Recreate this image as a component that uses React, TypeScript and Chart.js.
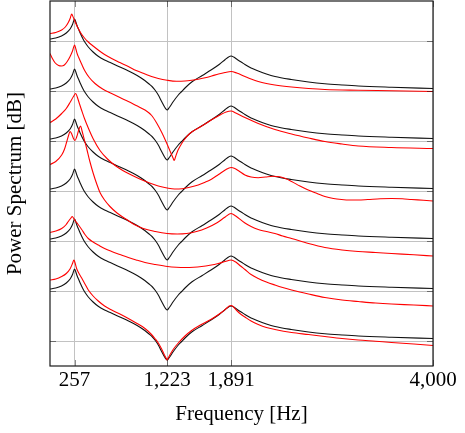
import React, { useEffect, useRef } from "react";
import { Chart, registerables } from "chart.js";

Chart.register(...registerables);

const WIDTH = 465;
const HEIGHT = 433;
const FONT_FAMILY = "'Liberation Serif', 'Times New Roman', serif";

// Axis ticks
const xTickValues = [257, 1223, 1891, 4000];
const yGridValues = [0, 10, 20, 30, 40, 50, 60];

// Vertical offset (dB) of each row, top row first
const rowOffsets = [50, 40, 30, 20, 10, 0];

// Model spectrum, drawn in black under every row
const modelFreq = [0, 60, 120, 170, 210, 235, 257, 268, 282, 300, 320, 345, 370, 400, 450, 500, 570, 640, 730, 820, 910, 990, 1035, 1070, 1100, 1131, 1166, 1200, 1223, 1246, 1288, 1340, 1375, 1410, 1480, 1590, 1690, 1770, 1830, 1865, 1891, 1918, 1955, 2000, 2036, 2100, 2175, 2260, 2350, 2520, 2700, 2870, 3050, 3220, 3570, 4000];
const modelDb = [10.4, 10.6, 11.0, 11.6, 12.4, 13.3, 14.4, 13.9, 13.1, 12.3, 11.4, 10.4, 9.6, 8.8, 7.8, 7.0, 6.2, 5.6, 4.8, 4.0, 3.1, 2.1, 1.4, 0.8, 0.1, -0.8, -2.1, -3.3, -3.8, -3.3, -2.1, -0.8, -0.1, 0.6, 1.8, 3.1, 4.3, 5.35, 6.3, 6.8, 7.0, 6.8, 6.3, 5.75, 5.3, 4.6, 4.0, 3.4, 2.9, 2.3, 1.8, 1.45, 1.2, 1.0, 0.75, 0.5];

// Measured spectra (red), one per row, relative to the row offset
const meas1Freq = [0, 60, 122, 160, 191, 210, 226, 235, 250, 270, 295, 325, 360, 400, 450, 504, 570, 644, 730, 818, 900, 992, 1060, 1131, 1223, 1320, 1410, 1480, 1548, 1620, 1688, 1760, 1827, 1891, 1950, 2036, 2100, 2175, 2260, 2349, 2523, 2700, 2871, 3219, 3567, 4000];
const meas1Db = [11.5, 11.7, 12.2, 12.8, 13.7, 14.5, 15.4, 15.1, 14.4, 13.5, 12.5, 11.5, 10.6, 9.8, 9.0, 8.2, 7.3, 6.5, 5.7, 4.9, 4.1, 3.4, 2.9, 2.5, 2.15, 1.95, 2.0, 2.15, 2.35, 2.65, 3.0, 3.4, 3.7, 3.9, 3.6, 2.9, 2.4, 1.9, 1.5, 1.2, 0.8, 0.5, 0.3, 0.15, 0.05, -0.1];

const meas2Freq = [0, 25, 55, 90, 120, 150, 180, 210, 235, 257, 270, 285, 300, 330, 365, 410, 470, 550, 644, 730, 818, 900, 992, 1062, 1114, 1170, 1218, 1260, 1285, 1298, 1312, 1335, 1357, 1400, 1460, 1550, 1636, 1710, 1775, 1840, 1891, 1940, 2036, 2175, 2349, 2523, 2700, 2871, 3050, 3219, 3567, 4000];
const meas2Db = [17.5, 16.5, 15.6, 15.1, 15.0, 15.2, 15.9, 16.9, 18.0, 19.2, 18.4, 17.4, 16.7, 15.4, 14.0, 12.7, 11.5, 10.4, 9.5, 8.7, 7.9, 7.1, 6.2, 5.1, 3.6, 1.6, -0.4, -2.3, -3.4, -3.9, -3.1, -1.9, -1.1, 0.2, 1.5, 2.6, 3.6, 4.5, 5.2, 5.8, 6.0, 5.6, 4.7, 3.5, 2.3, 1.4, 0.6, -0.1, -0.6, -1.0, -1.3, -1.5];

const meas3Freq = [0, 60, 122, 170, 209, 245, 268, 285, 305, 331, 360, 400, 452, 522, 600, 680, 760, 850, 950, 1040, 1131, 1223, 1300, 1380, 1460, 1548, 1620, 1690, 1760, 1830, 1891, 1930, 1980, 2036, 2100, 2175, 2250, 2330, 2400, 2460, 2523, 2610, 2697, 2790, 2871, 2960, 3045, 3130, 3219, 3320, 3450, 3567, 3680, 3776, 3900, 4000];
const meas3Db = [13.7, 14.4, 15.5, 16.5, 17.7, 18.9, 19.5, 18.8, 17.6, 16.1, 14.5, 12.6, 10.4, 8.1, 6.4, 5.1, 4.1, 3.2, 2.3, 1.6, 1.0, 0.6, 0.4, 0.45, 0.75, 1.2, 1.75, 2.4, 3.3, 4.2, 4.7, 4.5, 3.9, 3.2, 2.8, 2.65, 2.8, 2.95, 2.85, 2.5, 1.9, 1.0, 0.2, -0.5, -1.1, -1.5, -1.7, -1.8, -1.8, -1.7, -1.55, -1.5, -1.55, -1.7, -1.85, -2.0];

const meas4Freq = [0, 60, 122, 150, 174, 195, 209, 225, 245, 261, 280, 300, 320, 335, 355, 383, 415, 452, 490, 522, 570, 626, 700, 800, 880, 974, 1100, 1223, 1330, 1427, 1530, 1636, 1740, 1830, 1891, 1940, 2036, 2100, 2175, 2260, 2349, 2430, 2523, 2700, 2871, 3050, 3219, 3400, 3567, 3800, 4000];
const meas4Db = [15.3, 15.9, 17.2, 18.3, 19.8, 21.2, 21.9, 21.5, 20.5, 20.1, 20.9, 22.2, 23.0, 22.0, 20.5, 18.5, 16.0, 13.5, 11.3, 9.7, 8.2, 6.9, 5.6, 4.3, 3.3, 2.5, 1.9, 1.5, 1.4, 1.5, 1.9, 2.6, 3.6, 4.8, 5.5, 5.0, 3.6, 2.9, 2.3, 1.9, 1.5, 1.0, 0.5, -0.5, -1.3, -1.8, -2.1, -2.3, -2.5, -2.75, -3.0];

const meas5Freq = [0, 60, 122, 165, 191, 215, 233, 248, 265, 290, 331, 365, 400, 450, 504, 570, 644, 730, 818, 900, 992, 1100, 1228, 1320, 1410, 1500, 1584, 1670, 1757, 1830, 1891, 1940, 1990, 2036, 2100, 2175, 2260, 2349, 2430, 2523, 2700, 2871, 3050, 3219, 3400, 3567, 3800, 4000];
const meas5Db = [11.7, 12.0, 12.5, 13.2, 13.9, 14.5, 14.9, 14.5, 14.0, 13.4, 12.3, 11.3, 10.5, 9.8, 9.2, 8.5, 7.9, 7.3, 6.7, 6.2, 5.7, 5.3, 4.9, 4.75, 4.7, 4.75, 4.9, 5.15, 5.5, 5.9, 6.2, 5.8, 5.0, 4.3, 3.3, 2.5, 1.8, 1.2, 0.7, 0.2, -0.6, -1.3, -1.8, -2.1, -2.4, -2.6, -2.8, -3.0];

const meas6Freq = [0, 60, 122, 170, 209, 235, 250, 262, 278, 300, 331, 365, 400, 450, 504, 570, 644, 730, 818, 900, 992, 1060, 1100, 1131, 1166, 1195, 1212, 1223, 1234, 1252, 1290, 1340, 1410, 1479, 1580, 1688, 1790, 1850, 1872, 1891, 1912, 1950, 1990, 2036, 2100, 2175, 2260, 2349, 2523, 2700, 2871, 3050, 3219, 3400, 3567, 3800, 4000];
const meas6Db = [12.2, 12.4, 12.9, 13.5, 14.4, 15.5, 16.2, 15.6, 14.5, 13.6, 12.6, 11.4, 10.2, 9.0, 8.0, 7.0, 6.2, 5.4, 4.5, 3.6, 2.5, 1.3, 0.4, -0.4, -1.6, -2.8, -3.4, -3.8, -3.4, -2.8, -1.6, -0.4, 1.0, 2.1, 3.3, 4.4, 5.7, 6.65, 7.0, 7.1, 6.9, 6.1, 5.4, 4.8, 4.0, 3.3, 2.7, 2.3, 1.7, 1.3, 0.9, 0.5, 0.2, -0.05, -0.3, -0.6, -0.9];

const measFreqs = [meas1Freq, meas2Freq, meas3Freq, meas4Freq, meas5Freq, meas6Freq];
const measDbs = [meas1Db, meas2Db, meas3Db, meas4Db, meas5Db, meas6Db];

const toPoints = (freq: number[], db: number[], offset: number) =>
  freq.map((f, i) => ({ x: f, y: db[i] + offset }));

// Frame and inward tick marks around the plot area
const framePlugin = {
  id: "frame",
  afterDatasetsDraw(chart: any) {
    const { ctx, chartArea } = chart;
    const { left, right, top, bottom } = chartArea;
    const xs = chart.scales.x;
    const ys = chart.scales.y;
    ctx.save();
    ctx.strokeStyle = "rgba(0,0,0,0.45)";
    ctx.lineWidth = 1;
    const len = 6;
    ctx.beginPath();
    for (const v of yGridValues) {
      const y = Math.round(ys.getPixelForValue(v)) + 0.5;
      ctx.moveTo(left, y);
      ctx.lineTo(left + len, y);
      ctx.moveTo(right, y);
      ctx.lineTo(right - len, y);
    }
    for (const v of xTickValues) {
      const x = Math.round(xs.getPixelForValue(v)) + 0.5;
      ctx.moveTo(x, bottom);
      ctx.lineTo(x, bottom - len);
      ctx.moveTo(x, top);
      ctx.lineTo(x, top + len);
    }
    ctx.stroke();
    ctx.strokeStyle = "#1a1a1a";
    ctx.lineWidth = 1.2;
    ctx.strokeRect(left, top, right - left, bottom - top);
    ctx.restore();
  },
};

export default function App() {
  const canvasRef = useRef<HTMLCanvasElement | null>(null);

  useEffect(() => {
    const canvas = canvasRef.current;
    if (!canvas) return;

    const redSets = rowOffsets.map((off, i) => ({
      label: `measured ${i + 1}`,
      data: toPoints(measFreqs[i], measDbs[i], off),
      borderColor: "#ff0000",
      borderWidth: 1.1,
      pointRadius: 0,
      fill: false,
      cubicInterpolationMode: "monotone" as const,
    }));
    const blackSets = rowOffsets.map((off, i) => ({
      label: `model ${i + 1}`,
      data: toPoints(modelFreq, modelDb, off),
      borderColor: "#111111",
      borderWidth: 1.1,
      pointRadius: 0,
      fill: false,
      cubicInterpolationMode: "monotone" as const,
    }));

    const chart = new Chart(canvas, {
      type: "line",
      data: { datasets: [...redSets, ...blackSets] },
      plugins: [framePlugin],
      options: {
        animation: false,
        responsive: false,
        devicePixelRatio: 1,
        layout: { padding: { left: 0, right: 32, top: 1, bottom: 0 } },
        plugins: {
          legend: { display: false },
          tooltip: { enabled: false },
        },
        scales: {
          x: {
            type: "linear",
            min: 0,
            max: 4000,
            afterBuildTicks: (scale: any) => {
              scale.ticks = xTickValues.map((v) => ({ value: v }));
            },
            afterFit: (scale: any) => {
              scale.height = 67;
            },
            ticks: {
              autoSkip: false,
              maxRotation: 0,
              padding: 2,
              color: "#000",
              font: { family: FONT_FAMILY, size: 21 },
              callback: (v: any) => Number(v).toLocaleString("en-US"),
            },
            grid: { color: "#c2c2c2", lineWidth: 1, drawTicks: false },
            border: { display: false },
            title: {
              display: true,
              text: "Frequency [Hz]",
              color: "#000",
              font: { family: FONT_FAMILY, size: 21 },
              padding: { top: 0, bottom: 6 },
            },
          },
          y: {
            type: "linear",
            min: -5,
            max: 68,
            afterBuildTicks: (scale: any) => {
              scale.ticks = yGridValues.map((v) => ({ value: v }));
            },
            afterFit: (scale: any) => {
              scale.width = 50;
            },
            ticks: { display: false },
            grid: { color: "#c2c2c2", lineWidth: 1, drawTicks: false },
            border: { display: false },
            title: {
              display: true,
              text: "Power Spectrum [dB]",
              color: "#000",
              font: { family: FONT_FAMILY, size: 21 },
              padding: { top: 3, bottom: 0 },
            },
          },
        },
      },
    });

    return () => chart.destroy();
  }, []);

  return (
    <div style={{ position: "absolute", left: 0, top: 0, width: WIDTH, height: HEIGHT, background: "#fff" }}>
      <canvas ref={canvasRef} width={WIDTH} height={HEIGHT} style={{ display: "block" }} />
    </div>
  );
}
